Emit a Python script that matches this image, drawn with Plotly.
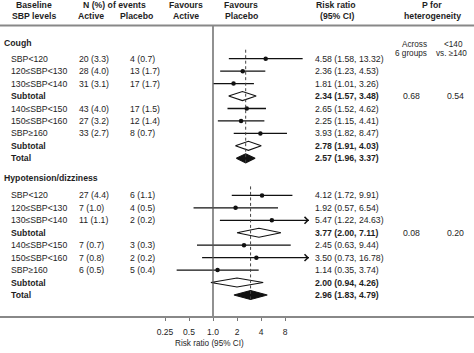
import math
import plotly.graph_objects as go

# ---------------- data ----------------
row_labels = ["SBP<120", "120≤SBP<130", "130≤SBP<140", "Subtotal",
              "140≤SBP<150", "150≤SBP<160", "SBP≥160", "Subtotal", "Total"]
row_kind = ["s", "s", "s", "sub", "s", "s", "s", "sub", "tot"]

groups = ["Cough", "Hypotension/dizziness"]

cough_active = ["20 (3.3)", "28 (4.0)", "31 (3.1)", "", "43 (4.0)", "27 (3.2)", "33 (2.7)", "", ""]
cough_placebo = ["4 (0.7)", "13 (1.7)", "17 (1.7)", "", "17 (1.5)", "12 (1.4)", "8 (0.7)", "", ""]
cough_rr = [4.58, 2.36, 1.81, 2.34, 2.65, 2.25, 3.93, 2.78, 2.57]
cough_lo = [1.58, 1.23, 1.01, 1.57, 1.52, 1.15, 1.82, 1.91, 1.96]
cough_hi = [13.32, 4.53, 3.26, 3.48, 4.62, 4.41, 8.47, 4.03, 3.37]

hypo_active = ["27 (4.4)", "7 (1.0)", "11 (1.1)", "", "7 (0.7)", "7 (0.8)", "6 (0.5)", "", ""]
hypo_placebo = ["6 (1.1)", "4 (0.5)", "2 (0.2)", "", "3 (0.3)", "2 (0.2)", "5 (0.4)", "", ""]
hypo_rr = [4.12, 1.92, 5.47, 3.77, 2.45, 3.50, 1.14, 2.00, 2.96]
hypo_lo = [1.72, 0.57, 1.22, 2.00, 0.63, 0.73, 0.35, 0.94, 1.83]
hypo_hi = [9.91, 6.54, 24.63, 7.11, 9.44, 16.78, 3.74, 4.26, 4.79]

p_across = ["0.68", "0.08"]
p_140 = ["0.54", "0.20"]

tick_vals = [0.25, 0.5, 1, 2, 4, 8]
tick_text = ["0.25", "0.5", "1.0", "2", "4", "8"]

# ---------------- layout constants ----------------
W, H = 474, 353
AXIS_PX = 316          # y of the x-axis line (pixel-like y units)
X1_PX = 213            # pixel position of RR = 1
PX_PER_DEC = 24 / math.log10(2)
CLIP = 16              # arrows beyond this
FONT = "Liberation Sans, Arial, sans-serif"
TXT = "#1e1e1e"
FS = 8.7

group_start = [58.7, 195.4]
group_head = [43.3, 178.0]
STEP = 12.45

def px(x):
    return x / W

fig = go.Figure()
ann = []

def text(x, y, s, anchor="left", bold=False, size=FS, yref="y"):
    ann.append(dict(x=px(x), y=y, xref="paper", yref=yref, text=("<b>%s</b>" % s) if bold else s,
                    showarrow=False, xanchor=anchor, yanchor="middle",
                    font=dict(family=FONT, size=size, color=TXT)))

# header
text(34, 5, "Baseline", "center", True)
text(34, 15.5, "SBP levels", "center", True)
text(114, 5, "N (%) of events", "center", True)
text(91, 15.5, "Active", "center", True)
text(136, 15.5, "Placebo", "center", True)
text(186, 5, "Favours", "center", True)
text(186, 15.5, "Active", "center", True)
text(241, 5, "Favours", "center", True)
text(241, 15.5, "Placebo", "center", True)
text(336, 5, "Risk ratio", "center", True)
text(337, 15.5, "(95% CI)", "center", True)
text(432, 5, "P for", "center", True)
text(432, 15.5, "heterogeneity", "center", True)
text(414, 44, "Across", "center", size=8.2)
text(411, 53, "6 groups", "center", size=8.2)
text(453, 44, "<140", "center", size=8.2)
text(451, 53, "vs. ≥140", "center", size=8.2)

datasets = [
    (cough_active, cough_placebo, cough_rr, cough_lo, cough_hi),
    (hypo_active, hypo_placebo, hypo_rr, hypo_lo, hypo_hi),
]

for g, (act, pla, rr, lo, hi) in enumerate(datasets):
    y0 = group_start[g]
    text(2, group_head[g], groups[g], bold=True)
    ys = [y0 + STEP * i for i in range(len(row_labels))]
    for i, lab in enumerate(row_labels):
        y = ys[i]
        bold = row_kind[i] != "s"
        text(9, y, lab, bold=bold)
        if act[i]:
            text(77, y, act[i])
        if pla[i]:
            text(128, y, pla[i])
        text(313, y, "%.2f (%.2f, %.2f)" % (rr[i], lo[i], hi[i]), bold=bold)
        if row_kind[i] == "s":
            hi_d = min(hi[i], CLIP)
            fig.add_trace(go.Scatter(x=[lo[i], hi_d], y=[y, y], mode="lines",
                                     line=dict(color="#111", width=1.3), hoverinfo="skip"))
            fig.add_trace(go.Scatter(x=[rr[i]], y=[y], mode="markers",
                                     marker=dict(color="#111", size=4.5, symbol="circle"),
                                     hoverinfo="skip"))
            if hi[i] > CLIP:
                ann.append(dict(x=math.log10(CLIP), y=y, ax=math.log10(CLIP) - 0.05, ay=y,
                                xref="x", yref="y", axref="x", ayref="y", showarrow=True,
                                arrowhead=4, arrowsize=1.1, arrowwidth=1.2, arrowcolor="#111",
                                text=""))
        else:
            hh = 4.5
            fill = "#111" if row_kind[i] == "tot" else "white"
            fig.add_trace(go.Scatter(x=[lo[i], rr[i], hi[i], rr[i], lo[i]],
                                     y=[y, y - hh, y, y + hh, y], mode="lines",
                                     fill="toself", fillcolor=fill,
                                     line=dict(color="#111", width=1.1), hoverinfo="skip"))
    # dashed line at overall estimate
    fig.add_trace(go.Scatter(x=[rr[-1], rr[-1]], y=[ys[0] - 9, ys[-1] + 6], mode="lines",
                             line=dict(color="#444", width=1, dash="3px,2.5px"),
                             hoverinfo="skip"))
    text(411, ys[3], p_across[g], "center")
    text(455, ys[3], p_140[g], "center")

# reference line at RR = 1
fig.add_trace(go.Scatter(x=[1, 1], y=[25.5, AXIS_PX], mode="lines",
                         line=dict(color="#555", width=1.3), hoverinfo="skip"))

# axis title
text(209, (H - 343) / H, "Risk ratio (95% CI)", "center", size=8.2, yref="paper")

fig.update_layout(
    width=W, height=H, margin=dict(l=0, r=0, t=0, b=0),
    plot_bgcolor="white", paper_bgcolor="white", showlegend=False,
    annotations=ann,
    shapes=[dict(type="line", xref="paper", yref="y", x0=0, x1=1, y0=25.5, y1=25.5,
                 line=dict(color="#888", width=2))],
)
fig.update_xaxes(type="log", domain=[0, 1],
                 range=[(0 - X1_PX) / PX_PER_DEC, (W - X1_PX) / PX_PER_DEC],
                 tickvals=tick_vals, ticktext=tick_text, ticks="outside", ticklen=3,
                 tickcolor="#777", tickwidth=1, showline=True, linecolor="#888", linewidth=2,
                 showgrid=False, zeroline=False, ticklabelstandoff=4,
                 tickfont=dict(family=FONT, size=8.5, color=TXT))
fig.update_yaxes(range=[AXIS_PX, 0], domain=[(H - AXIS_PX) / H, 1], visible=False,
                 showgrid=False, zeroline=False)

fig.write_html("out.html")
